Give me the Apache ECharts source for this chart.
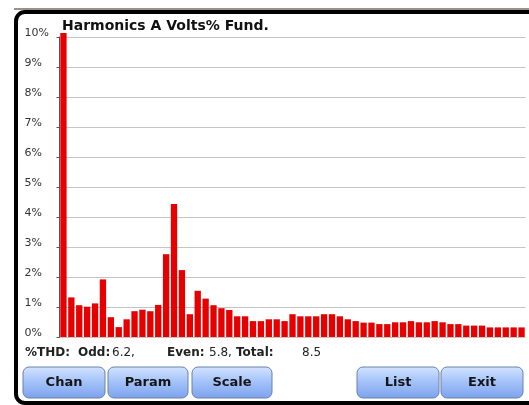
<!DOCTYPE html>
<html>
<head>
<meta charset="utf-8">
<script src="https://cdn.jsdelivr.net/npm/echarts@6/dist/echarts.min.js"></script>
<style>
html,body{margin:0;padding:0;background:#fff;}
#main{width:529px;height:405px;}
</style>
</head>
<body>
<div id="main"></div>
<script>
// harmonic numbers 1..59, values in % of fundamental
var harmonics = [];
for (var i = 1; i <= 59; i++) harmonics.push(String(i));
var volts = [
    10.13, 1.32, 1.06, 1.01, 1.12, 1.92, 0.66, 0.33, 0.59, 0.86,
    0.91, 0.86, 1.07, 2.76, 4.43, 2.23, 0.76, 1.54, 1.28, 1.06,
    0.96, 0.90, 0.69, 0.69, 0.53, 0.53, 0.59, 0.59, 0.53, 0.76,
    0.69, 0.69, 0.69, 0.76, 0.76, 0.69, 0.59, 0.53, 0.48, 0.48,
    0.43, 0.43, 0.49, 0.49, 0.53, 0.49, 0.49, 0.53, 0.49, 0.43,
    0.43, 0.38, 0.38, 0.38, 0.32, 0.32, 0.32, 0.32, 0.32
];
var thdText = ['%THD:', 'Odd:', '6.2,', 'Even:', '5.8,', 'Total:', '8.5'];
var thdX = [25, 78, 112, 167, 209, 236, 302];
var buttons = ['Chan', 'Param', 'Scale', 'List', 'Exit'];
var buttonX = [23, 108, 192, 357, 441];
var buttonW = [82, 80, 80, 82, 82];

var font = 'DejaVu Sans';
var myChart = echarts.init(document.getElementById('main'));

var graphics = [
    // frame of the instrument screen
    {type: 'rect', shape: {x: 14, y: 8, width: 600, height: 2}, style: {fill: '#9a928a'}, z: 0},
    {type: 'rect', shape: {x: 16, y: 12, width: 600, height: 391, r: 9},
        style: {fill: 'transparent', stroke: '#000', lineWidth: 4}, z: 10}
];
// THD line
for (var k = 0; k < thdText.length; k++) {
    graphics.push({
        type: 'text', left: thdX[k], top: 347,
        style: {text: thdText[k], font: (k % 2 == 0 && k > 0 ? 'normal' : 'bold') + ' 12px ' + font, fill: '#222'}
    });
}
// soft keys
for (var b = 0; b < buttons.length; b++) {
    graphics.push({
        type: 'group', x: buttonX[b], y: 367,
        children: [
            {type: 'rect', shape: {x: 0, y: 0, width: buttonW[b], height: 31, r: 6},
                style: {
                    fill: new echarts.graphic.LinearGradient(0, 0, 0, 1, [
                        {offset: 0, color: '#d4e4ff'},
                        {offset: 0.45, color: '#a6c4fa'},
                        {offset: 1, color: '#7ca2ee'}
                    ]),
                    stroke: '#6a80aa', lineWidth: 1
                }},
            {type: 'text', style: {
                text: buttons[b], x: buttonW[b] / 2, y: 16, align: 'center', verticalAlign: 'middle',
                font: 'bold 13px ' + font, fill: '#151515'
            }}
        ]
    });
}

option = {
    animation: false,
    backgroundColor: '#fff',
    title: {
        text: 'Harmonics A Volts% Fund.',
        left: 57, top: 14,
        textStyle: {fontFamily: font, fontWeight: 'bold', fontSize: 14, color: '#111'}
    },
    grid: {left: 59.5, top: 37, width: 466, height: 300},
    xAxis: {
        type: 'category',
        data: harmonics,
        axisLine: {show: false},
        axisTick: {show: false},
        axisLabel: {show: false}
    },
    yAxis: {
        type: 'value',
        min: 0, max: 10, interval: 1,
        axisLine: {show: true, lineStyle: {color: '#555', width: 1}},
        axisTick: {show: true, length: 3, lineStyle: {color: '#555'}},
        axisLabel: {
            formatter: '{value}%', align: 'left', verticalAlign: 'bottom', margin: 35,
            fontFamily: font, fontSize: 11, color: '#333', lineHeight: 8
        },
        splitLine: {lineStyle: {color: '#c4c4c4', width: 1}}
    },
    series: [
        {
            type: 'bar',
            data: volts,
            clip: false,
            barCategoryGap: '20%',
            itemStyle: {color: '#e60000'}
        }
    ],
    graphic: graphics
};
myChart.setOption(option);
</script>
</body>
</html>
